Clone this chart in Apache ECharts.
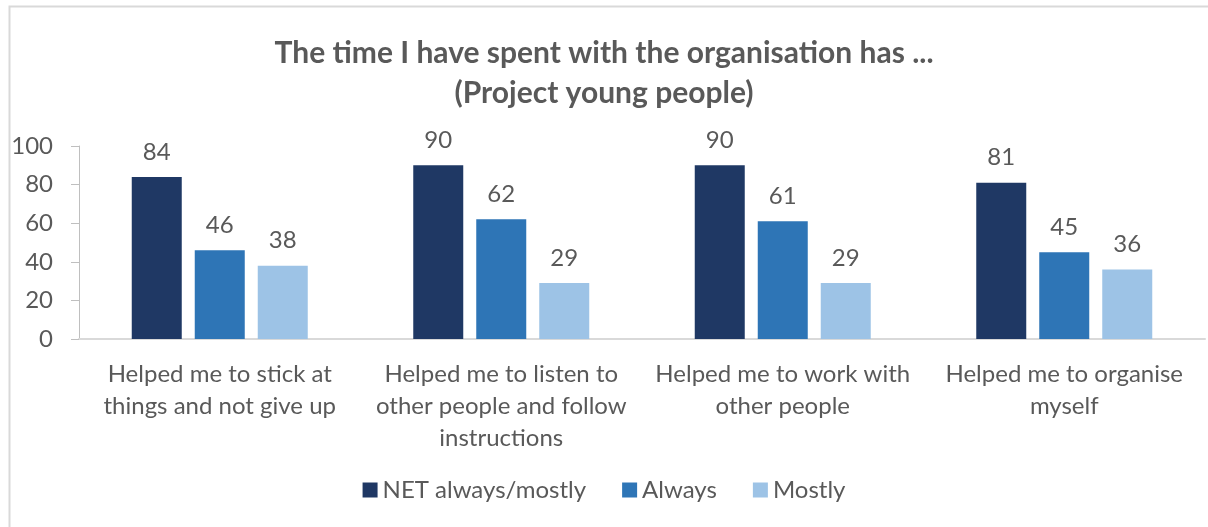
<!DOCTYPE html>
<html>
<head>
<meta charset="utf-8">
<script src="https://cdn.jsdelivr.net/npm/echarts@6/dist/echarts.min.js"></script>
<style>
  html, body { margin: 0; padding: 0; background: #fff; }
  #chart { width: 1208px; height: 527px; }
</style>
</head>
<body>
<div id="chart"></div>
<script>
// Survey statements (x-axis categories)
const categories = [
  'Helped me to stick at\nthings and not give up',
  'Helped me to listen to\nother people and follow\ninstructions',
  'Helped me to work with\nother people',
  'Helped me to organise\nmyself'
];

// Percentages per answer group
const netAlwaysMostly = [84, 90, 90, 81];
const always = [46, 62, 61, 45];
const mostly = [38, 29, 29, 36];

// Y-axis scale
const yMin = 0;
const yMax = 100;
const yStep = 20;

const textColor = '#595959';
const fontFamily = 'Lato, "Liberation Sans", sans-serif';

function barSeries(name, data, color) {
  return {
    name: name,
    type: 'bar',
    data: data,
    barWidth: 50,
    barGap: '26%',
    itemStyle: { color: color },
    label: {
      show: true,
      position: 'top',
      distance: 13,
      color: textColor,
      fontSize: 24,
      fontFamily: fontFamily
    }
  };
}

const chart = echarts.init(document.getElementById('chart'), null, { renderer: 'canvas' });
chart.setOption({
  backgroundColor: '#ffffff',
  animation: false,
  graphic: [{
    type: 'rect',
    shape: { x: 9.5, y: 6.5, width: 1300, height: 600 },
    style: { fill: 'none', stroke: '#d9d9d9', lineWidth: 2 },
    silent: true
  }],
  title: {
    text: 'The time I have spent with the organisation has ...\n(Project young people)',
    left: 'center',
    top: 28,
    textStyle: {
      color: textColor,
      fontSize: 30,
      fontWeight: 'bold',
      fontFamily: fontFamily,
      lineHeight: 40
    }
  },
  legend: {
    bottom: 20,
    left: 'center',
    itemWidth: 15,
    itemHeight: 15,
    itemGap: 36,
    icon: 'rect',
    textStyle: { color: textColor, fontSize: 24, fontFamily: fontFamily },
    data: ['NET always/mostly', 'Always', 'Mostly']
  },
  grid: { left: 79, right: 3, top: 146, bottom: 188 },
  xAxis: {
    type: 'category',
    data: categories,
    axisLine: { show: true, lineStyle: { color: '#d9d9d9', width: 2 } },
    axisTick: { show: false },
    axisLabel: {
      color: textColor,
      fontSize: 24,
      fontFamily: fontFamily,
      lineHeight: 32,
      margin: 19,
      interval: 0
    }
  },
  yAxis: {
    type: 'value',
    min: yMin,
    max: yMax,
    interval: yStep,
    splitLine: { show: false },
    axisLine: { show: true, lineStyle: { color: '#bfbfbf' } },
    axisTick: { show: true, length: 8, lineStyle: { color: '#bfbfbf' } },
    axisLabel: { color: textColor, fontSize: 24, fontFamily: fontFamily, margin: 26 }
  },
  series: [
    barSeries('NET always/mostly', netAlwaysMostly, '#1f3864'),
    barSeries('Always', always, '#2e75b6'),
    barSeries('Mostly', mostly, '#9dc3e6')
  ]
});
</script>
</body>
</html>
